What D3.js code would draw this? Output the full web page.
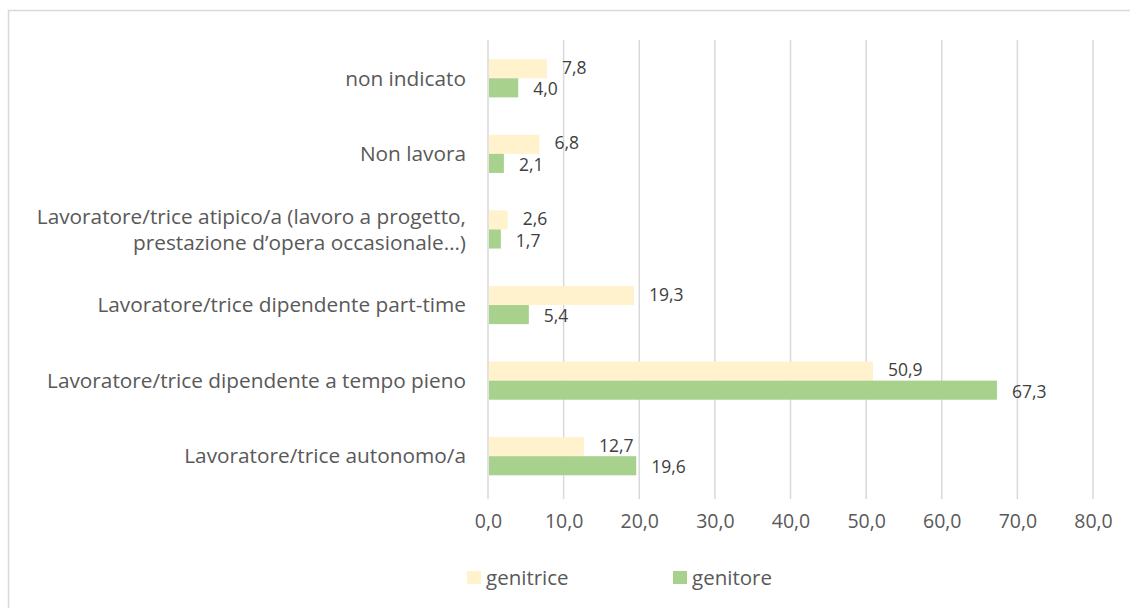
<!DOCTYPE html>
<html><head><meta charset="utf-8">
<script src="https://cdn.jsdelivr.net/npm/d3@7"></script>
<style>body{margin:0;background:#fff;} svg{display:block;font-family:"Open Sans",sans-serif;}</style>
</head><body>
<svg id="c" width="1130" height="608"></svg>
<script>
const categories = ["non indicato","Non lavora","Lavoratore/trice atipico/a (lavoro a progetto,|prestazione d\u2019opera occasionale\u2026)","Lavoratore/trice dipendente part-time","Lavoratore/trice dipendente a tempo pieno","Lavoratore/trice autonomo/a"];
const genitrice = [7.8,6.8,2.6,19.3,50.9,12.7];
const genitore = [4.0,2.1,1.7,5.4,67.3,19.6];
const seriesNames = ["genitrice","genitore"];
const xTicks = [0,10,20,30,40,50,60,70,80];

const colors = {genitrice:"#FFF2CC", genitore:"#A9D18E"};
const svg = d3.select("#c");
// frame
svg.append("path").attr("d","M8.5,608 V10.5 H1130").attr("fill","none").attr("stroke","#D9D9D9").attr("stroke-width",1.5);

const x = d3.scaleLinear().domain([0,80]).range([488,1093]);
const y = d3.scaleBand().domain(categories).range([40.5,494]).paddingInner(0).paddingOuter(0);
const sub = d3.scaleBand().domain(seriesNames).range([0,y.bandwidth()]).paddingInner(0).paddingOuter(0.98);

const fmt = v => d3.format(".1f")(v).replace(".",",");

// grid
svg.append("g").selectAll("line").data(xTicks).join("line")
  .attr("x1",d=>x(d)).attr("x2",d=>x(d)).attr("y1",40).attr("y2",499)
  .attr("stroke","#D9D9D9").attr("stroke-width",1.5);

// axis labels
const xa = svg.append("g").attr("transform","translate(0,499)")
  .call(d3.axisBottom(x).tickValues(xTicks).tickFormat(fmt).tickSize(0).tickPadding(15));
xa.select(".domain").remove();
xa.selectAll("text").attr("font-family","Open Sans").attr("font-size",19.5).attr("fill","#595959");

// category labels
const cg = svg.append("g");
categories.forEach(c=>{
  const lines = c.split("|");
  const cy = y(c)+y.bandwidth()/2;
  const t = cg.append("text").attr("x",466).attr("text-anchor","end").attr("font-size",20.8).attr("fill","#595959");
  lines.forEach((l,i)=>{
    t.append("tspan").attr("x",466).attr("y",cy + (i-(lines.length-1)/2)*26).attr("dy","0.35em").text(l);
  });
});

// bars
const data = [];
categories.forEach((c,i)=>{
  data.push({c, s:"genitrice", v:genitrice[i]});
  data.push({c, s:"genitore", v:genitore[i]});
});
svg.append("g").selectAll("rect").data(data).join("rect")
  .attr("x",x(0)+1).attr("y",d=>y(d.c)+sub(d.s))
  .attr("width",d=>x(d.v)-x(0)-1).attr("height",sub.bandwidth())
  .attr("fill",d=>colors[d.s]);
svg.append("g").selectAll("text").data(data).join("text")
  .attr("x",d=>x(d.v)+15).attr("y",d=>y(d.c)+sub(d.s)+sub.bandwidth()/2 + (d.s==="genitrice"?-1:1.5)).attr("dy","0.35em")
  .attr("font-size",17.5).attr("fill","#404040").text(d=>fmt(d.v));

// legend
const lg = svg.append("g");
const items = [{s:"genitrice",x:467},{s:"genitore",x:673}];
items.forEach(it=>{
  lg.append("rect").attr("x",it.x).attr("y",571).attr("width",14).attr("height",13).attr("fill",colors[it.s]);
  lg.append("text").attr("x",it.x+19).attr("y",578).attr("dy","0.35em").attr("font-size",20.5).attr("fill","#595959").text(it.s);
});
</script>
</body></html>
